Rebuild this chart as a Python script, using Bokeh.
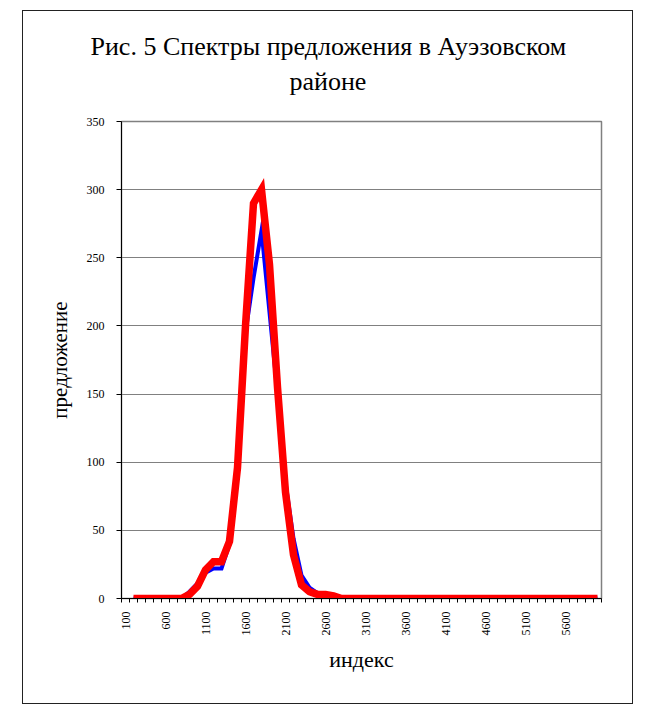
import math
from bokeh.plotting import figure
from bokeh.models import Range1d, FixedTicker, Title
from bokeh.embed import file_html
from bokeh.resources import INLINE

# ---- data ----
index_values = [200, 300, 400, 500, 600, 700, 800, 900, 1000, 1100,
                1200, 1300, 1400, 1500, 1600, 1700, 1800, 1900, 2000, 2100,
                2200, 2300, 2400, 2500, 2600, 2700, 2800, 2900, 3000, 3100,
                3200, 3300, 3400, 3500, 3600, 3700, 3800, 3900, 4000, 4100,
                4200, 4300, 4400, 4500, 4600, 4700, 4800, 4900, 5000, 5100,
                5200, 5300, 5400, 5500, 5600, 5700, 5800, 5900, 6000]

supply_blue = [0, 0, 0, 0, 0, 0, 0, 5, 11, 19,
               22, 22, 40, 95, 195, 235, 270, 210, 150, 85,
               44, 17, 8, 4, 1, 0, 0, 0, 0, 0,
               0, 0, 0, 0, 0, 0, 0, 0, 0, 0,
               0, 0, 0, 0, 0, 0, 0, 0, 0, 0,
               0, 0, 0, 0, 0, 0, 0, 0, 0]

supply_red = [0, 0, 0, 0, 0, 0, 0, 3, 9, 21,
              27, 27, 42, 96, 200, 290, 300, 245, 155, 78,
              32, 10, 5, 3, 3, 2, 0, 0, 0, 0,
              0, 0, 0, 0, 0, 0, 0, 0, 0, 0,
              0, 0, 0, 0, 0, 0, 0, 0, 0, 0,
              0, 0, 0, 0, 0, 0, 0, 0, 0]

x_tick_labels = [100, 600, 1100, 1600, 2100, 2600, 3100, 3600, 4100, 4600, 5100, 5600]
y_ticks = [0, 50, 100, 150, 200, 250, 300, 350]

title_line1 = "Рис. 5 Спектры предложения в Ауэзовском"
title_line2 = "районе"
x_title = "индекс"
y_title = "предложение"

FONT = "Liberation Serif"

p = figure(width=611, height=694, output_backend="svg", toolbar_location=None,
           x_range=Range1d(50, 6050), y_range=Range1d(0, 350),
           min_border_left=98, min_border_right=33,
           min_border_top=110, min_border_bottom=107)
p.title.visible = False
p.margin = (10, 0, 0, 22)
p.styles = {"border": "1.5px solid #222222"}
p.background_fill_color = "white"
p.border_fill_color = "white"
p.outline_line_color = "#808080"
p.outline_line_width = 1.5

# two-line title (line nearest the frame is added first)
t2 = Title(text=title_line2, align="left", offset=168, text_font=FONT,
           text_font_size="26px", text_font_style="normal", text_color="black",
           standoff=52)
t1 = Title(text=title_line1, align="left", offset=-31, text_font=FONT,
           text_font_size="26px", text_font_style="normal", text_color="black",
           standoff=-44)
p.add_layout(t2, "above")
p.add_layout(t1, "above")

p.line(index_values, supply_blue, line_color="#0000FF", line_width=4, line_join="miter")
p.line(index_values, supply_red, line_color="#FF0000", line_width=7.5, line_join="miter")

# y axis
p.yaxis.ticker = FixedTicker(ticks=y_ticks)
p.yaxis.major_tick_in = 0
p.yaxis.major_tick_out = 5
p.yaxis.minor_tick_line_color = None
p.yaxis.axis_line_color = "black"
p.yaxis.major_label_text_font = FONT
p.yaxis.major_label_text_font_size = "12px"
p.yaxis.major_label_text_color = "black"
p.yaxis.major_label_standoff = 12
p.yaxis.axis_label = y_title
p.yaxis.axis_label_text_font = FONT
p.yaxis.axis_label_text_font_size = "21px"
p.yaxis.axis_label_text_font_style = "normal"
p.yaxis.axis_label_text_color = "black"
p.yaxis.axis_label_standoff = 12

# x axis
boundaries = [v - 50 for v in [100] + index_values] + [index_values[-1] + 50]
p.xaxis.ticker = FixedTicker(ticks=x_tick_labels, minor_ticks=boundaries)
p.xaxis.major_tick_in = 0
p.xaxis.major_tick_out = 0
p.xaxis.minor_tick_in = 0
p.xaxis.minor_tick_out = 4
p.xaxis.minor_tick_line_color = "black"
p.xaxis.axis_line_color = "black"
p.xaxis.major_label_orientation = math.pi / 2
p.xaxis.major_label_text_font = FONT
p.xaxis.major_label_text_font_size = "12px"
p.xaxis.major_label_text_color = "black"
p.xaxis.major_label_standoff = 9
p.xaxis.axis_label = x_title
p.xaxis.axis_label_text_font = FONT
p.xaxis.axis_label_text_font_size = "22px"
p.xaxis.axis_label_text_font_style = "normal"
p.xaxis.axis_label_text_color = "black"
p.xaxis.axis_label_standoff = 8

p.xgrid.visible = False
p.ygrid.ticker = FixedTicker(ticks=y_ticks)
p.ygrid.grid_line_color = "#808080"
p.ygrid.grid_line_width = 1

open("out.html", "w").write(file_html(p, INLINE))
